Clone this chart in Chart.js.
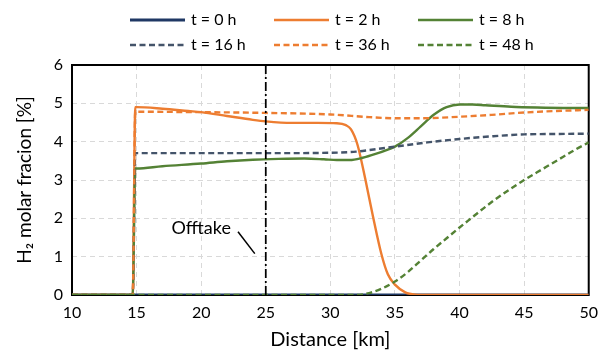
<!DOCTYPE html>
<html>
<head>
<meta charset="utf-8">
<script src="https://cdn.jsdelivr.net/npm/chart.js@4.4.1/dist/chart.umd.min.js"></script>
<style>
  html, body { margin: 0; padding: 0; background: #fff; }
  #wrap { width: 606px; height: 352px; position: relative; }
</style>
</head>
<body>
<div id="wrap"><canvas id="h2Chart"></canvas></div>
<script>
// Distance along the pipeline [km] and H2 molar fraction [%] per time step
const km0h = [10, 50];
const h2_0h = [0, 0];

const km2h = [10, 14.7, 14.9, 15, 17, 19, 20, 22, 24, 25, 27, 29, 30.5, 31.2, 31.6, 32.1, 32.7, 33.3, 33.95, 34.45, 35, 35.8, 36.6, 37.5, 50];
const h2_2h = [0, 0, 4.9, 4.9, 4.86, 4.8, 4.77, 4.67, 4.57, 4.53, 4.49, 4.49, 4.48, 4.43, 4.32, 3.92, 3.03, 2.05, 1.07, 0.54, 0.27, 0.07, 0.01, 0, 0];

const km8h = [10, 14.7, 14.9, 15, 17, 20, 22, 24, 26, 28, 29.5, 30.5, 31.5, 32.5, 33.5, 34.5, 35, 36, 37, 38, 39, 40, 41, 42, 44, 46, 48, 50];
const h2_8h = [0, 0, 3.3, 3.3, 3.36, 3.43, 3.49, 3.53, 3.55, 3.56, 3.54, 3.52, 3.52, 3.58, 3.68, 3.8, 3.87, 4.1, 4.4, 4.7, 4.9, 4.97, 4.97, 4.95, 4.91, 4.89, 4.88, 4.88];

const km16h = [10, 14.7, 14.9, 15, 20, 25, 30, 32, 33, 35, 37.5, 40, 42.5, 45, 47.5, 50];
const h2_16h = [0, 0, 3.7, 3.7, 3.7, 3.7, 3.71, 3.74, 3.78, 3.87, 3.98, 4.07, 4.14, 4.19, 4.2, 4.21];

const km36h = [10, 14.7, 14.9, 15, 20, 25, 30, 33, 35, 37, 40, 42.5, 45, 47.5, 50];
const h2_36h = [0, 0, 4.78, 4.78, 4.77, 4.75, 4.71, 4.64, 4.61, 4.61, 4.65, 4.7, 4.76, 4.8, 4.83];

const km48h = [10, 32, 33, 34, 35, 36, 37, 38, 39, 40, 41, 42, 43, 44, 45, 46, 47, 48, 49, 50];
const h2_48h = [0, 0, 0.05, 0.17, 0.35, 0.6, 0.9, 1.2, 1.48, 1.76, 2.03, 2.3, 2.55, 2.78, 3.0, 3.2, 3.4, 3.6, 3.8, 3.98];

const offtakeKm = [25, 25];
const offtakeH2 = [0, 6];

const seriesLabels = ['t = 0 h', 't = 2 h', 't = 8 h', 't = 16 h', 't = 36 h', 't = 48 h'];
const xTicks = [10, 15, 20, 25, 30, 35, 40, 45, 50];
const yTicks = [0, 1, 2, 3, 4, 5, 6];

const NAVY = '#1f3864', ORANGE = '#ed7d31', GREEN = '#548235', SLATE = '#44546a';
const FONT = 'Lato, "Open Sans", sans-serif';
const DASH = [6, 3.5];

function pts(xs, ys) { return xs.map((x, i) => ({ x: x, y: ys[i] })); }

function line(label, xs, ys, color, dash, order, width) {
    return {
        label: label,
        data: pts(xs, ys),
        borderColor: color,
        backgroundColor: color,
        borderWidth: width || 2.4,
        borderDash: dash,
        pointRadius: 0,
        cubicInterpolationMode: 'monotone',
        fill: false,
        order: order
    };
}

const datasets = [
    line(seriesLabels[0], km0h, h2_0h, NAVY, [], 6, 3),
    line(seriesLabels[1], km2h, h2_2h, ORANGE, [], 5),
    line(seriesLabels[2], km8h, h2_8h, GREEN, [], 4),
    line(seriesLabels[3], km16h, h2_16h, SLATE, DASH, 3),
    line(seriesLabels[4], km36h, h2_36h, ORANGE, DASH, 2),
    line(seriesLabels[5], km48h, h2_48h, GREEN, DASH, 1),
    Object.assign(line('Offtake', offtakeKm, offtakeH2, '#000', [9, 3, 2, 3], 0, 1.75), { cubicInterpolationMode: 'default', tension: 0 })
];

// black frame round the plot, under the curves
const frame = {
    id: 'frame',
    beforeDatasetsDraw(chart) {
        const a = chart.chartArea, ctx = chart.ctx;
        ctx.save();
        ctx.strokeStyle = '#000';
        ctx.lineWidth = 2;
        ctx.strokeRect(a.left, a.top, a.right - a.left, a.bottom - a.top);
        ctx.restore();
    }
};

// "Offtake" note with its leader line
const offtakeNote = {
    id: 'offtakeNote',
    afterDatasetsDraw(chart) {
        const x = chart.scales.x, y = chart.scales.y, ctx = chart.ctx;
        ctx.save();
        ctx.fillStyle = '#000';
        ctx.font = '18px ' + FONT;
        ctx.textAlign = 'center';
        ctx.textBaseline = 'middle';
        ctx.fillText('Offtake', x.getPixelForValue(20.0), y.getPixelForValue(1.74));
        ctx.strokeStyle = '#000';
        ctx.lineWidth = 1.5;
        ctx.beginPath();
        ctx.moveTo(x.getPixelForValue(22.85), y.getPixelForValue(1.65));
        ctx.lineTo(x.getPixelForValue(24.15), y.getPixelForValue(1.08));
        ctx.stroke();
        ctx.restore();
    }
};

// two-row legend, three columns
const gridLegend = {
    id: 'gridLegend',
    afterDraw(chart) {
        const ctx = chart.ctx;
        const cols = [130, 274, 418], rows = [20, 45], len = 55;
        ctx.save();
        ctx.font = '16px ' + FONT;
        ctx.textBaseline = 'middle';
        ctx.textAlign = 'left';
        for (let i = 0; i < 6; i++) {
            const ds = chart.data.datasets[i];
            const cx = cols[i % 3], cy = rows[Math.floor(i / 3)];
            ctx.strokeStyle = ds.borderColor;
            ctx.lineWidth = i === 0 ? 3 : 2.4;
            ctx.setLineDash(ds.borderDash);
            ctx.beginPath();
            ctx.moveTo(cx, cy);
            ctx.lineTo(cx + len, cy);
            ctx.stroke();
            ctx.setLineDash([]);
            ctx.fillStyle = '#000';
            ctx.fillText(ds.label, cx + len + 6, cy);
        }
        ctx.restore();
    }
};

new Chart(document.getElementById('h2Chart'), {
    type: 'line',
    data: { datasets: datasets },
    options: {
        responsive: true,
        maintainAspectRatio: false,
        animation: false,
        layout: { padding: { top: 65, right: 12, left: 0, bottom: 0 } },
        plugins: { legend: { display: false }, tooltip: { enabled: false } },
        scales: {
            x: {
                type: 'linear',
                min: 10, max: 50,
                afterBuildTicks: s => { s.ticks = xTicks.map(v => ({ value: v })); },
                afterFit: s => { s.height = 57; },
                ticks: { color: '#000', font: { family: FONT, size: 16 }, padding: 8, maxRotation: 0 },
                grid: { color: '#d9d9d9', lineWidth: 1, drawTicks: false },
                border: { display: false, dash: [5, 4] },
                title: { display: true, text: 'Distance [km]', color: '#000', font: { family: FONT, size: 20 }, padding: { top: 0, bottom: 0 } }
            },
            y: {
                min: 0, max: 6,
                afterBuildTicks: s => { s.ticks = yTicks.map(v => ({ value: v })); },
                afterFit: s => { s.width = 72; },
                ticks: { color: '#000', font: { family: FONT, size: 16 }, padding: 9 },
                grid: { color: '#d9d9d9', lineWidth: 1, drawTicks: false },
                border: { display: false, dash: [5, 4] },
                title: { display: true, text: 'H₂ molar fracion [%]', color: '#000', font: { family: FONT, size: 19 }, padding: { top: 13, bottom: 0 } }
            }
        }
    },
    plugins: [frame, offtakeNote, gridLegend]
});
</script>
</body>
</html>
